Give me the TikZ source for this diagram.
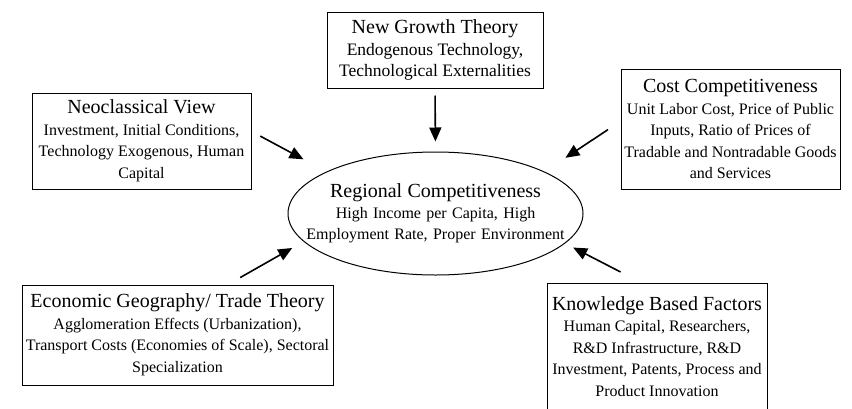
\documentclass[tikz,border=0pt]{standalone}
\usepackage{fontspec}
\setmainfont{Liberation Serif}
\usepackage{tikz}
\usetikzlibrary{shapes}
\usetikzlibrary{arrows.meta}
\usetikzlibrary{calc}
\tikzstyle{cadre}=[rectangle,draw,line width=1pt,align=center,
        inner xsep=1pt,inner ysep=0pt,
        font=\fontsize{16}{21.5}\selectfont]
\tikzstyle{ovale}=[ellipse,draw,line width=1pt,align=center,
        inner xsep=-30pt,inner ysep=0pt,
        minimum width=295pt,minimum height=123pt,
        font=\fontsize{16}{21}\selectfont]
\tikzstyle{fleche}=[-{Triangle[length=14pt,width=12pt]},line width=1.6pt]
\newcommand{\titre}[1]{{\fontsize{20}{24}\selectfont #1}}

\begin{document}
\begin{tikzpicture}[x=1pt,y=-1pt]
\useasboundingbox (0,0) rectangle (852,408);
\node[cadre,minimum width=219pt,minimum height=96pt] (a) at (141.5,141) {\titre{Neoclassical View}\\Investment, Initial Conditions,\\Technology Exogenous, Human\\Capital};
\node[cadre,minimum width=216pt,minimum height=76pt,font=\fontsize{17.5}{21.5}\selectfont] (b) at (435,50) {\titre{New Growth Theory}\\Endogenous Technology,\\Technological Externalities};
\node[cadre,minimum width=219pt,minimum height=120pt] (c) at (730.5,129) {\titre{Cost Competitiveness}\\Unit Labor Cost, Price of Public\\Inputs, Ratio of Prices of\\Tradable and Nontradable Goods\\and Services};
\node[cadre,minimum width=311pt,minimum height=100pt] (d) at (177.5,335) {\titre{Economic Geography/ Trade Theory}\\Agglomeration Effects (Urbanization),\\Transport Costs (Economies of Scale), Sectoral\\Specialization};
\node[cadre,minimum width=220pt,minimum height=127pt] (e) at (657,346.5) {\titre{Knowledge Based Factors}\\Human Capital, Researchers,\\R\&D Infrastructure, R\&D\\Investment, Patents, Process and\\Product Innovation};
\node[ovale,text width=262pt] (rc) at (435.5,213.5) {\titre{Regional Competitiveness}\\High Income per Capita, High\\Employment Rate, Proper Environment};
%Placement des fleches
\draw[fleche,shorten <=7pt,shorten >=10pt] (b.south) -- (rc.north);
\draw[fleche,shorten <=10pt,shorten >=26pt] (a.5) -- (rc.159);
\draw[fleche,shorten <=15pt,shorten >=25pt] (c.176) -- (rc.21);
\draw[fleche,shorten <=14pt,shorten >=13pt] (d.45) -- (rc.192);
\draw[fleche,shorten <=23pt,shorten >=9pt] ([xshift=-16pt]e.north) -- (rc.347);
\end{tikzpicture}
\end{document}
